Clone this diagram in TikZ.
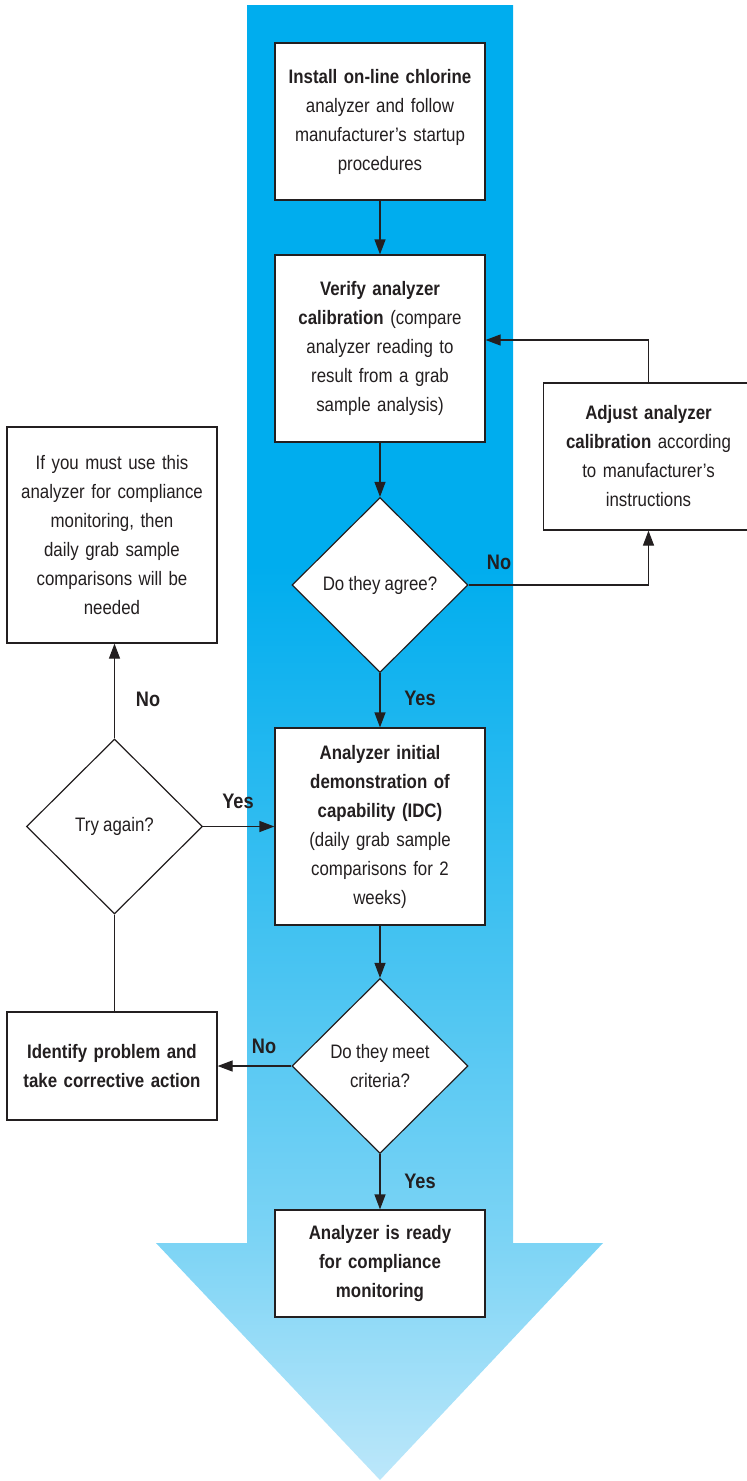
\documentclass[tikz,border=0pt]{standalone}
\usepackage{fontspec}
\setmainfont{Liberation Sans}[FakeStretch=0.865, WordSpace=0.9]
\usetikzlibrary{shapes.geometric,arrows.meta}
\definecolor{flowtop}{RGB}{0,173,238}
\definecolor{flowmid}{RGB}{80,198,242}
\definecolor{flowlow}{RGB}{125,212,245}
\definecolor{flowbot}{RGB}{188,231,250}
\definecolor{inkclr}{HTML}{231F20}
\pgfdeclareverticalshading{flowshade}{100bp}{color(0bp)=(flowbot); color(25bp)=(flowbot);
  color(33bp)=(flowlow); color(41bp)=(flowmid); color(56bp)=(flowtop); color(100bp)=(flowtop)}

\begin{document}
\begin{tikzpicture}[
  x=1pt, y=-1pt,
  font=\fontsize{19.5}{29}\selectfont,
  text=inkclr,
  box/.style={
    rectangle, draw=inkclr, line width=1.2pt, fill=white,
    minimum width=210pt, text width=206pt, align=center, inner sep=0pt,
  },
  decision/.style={
    diamond, draw=inkclr, line width=1.2pt, fill=white,
    minimum width=176pt, minimum height=175pt, inner sep=0pt, align=center,
  },
  answer/.style={font=\fontsize{21}{25}\selectfont\bfseries},
  arrow/.style={-{Triangle[length=15pt,width=11pt]}, line width=1.2pt, draw=inkclr},
  link/.style={line width=1.2pt, draw=inkclr},
]

\useasboundingbox (0,0) rectangle (747,1481);

% Background flow arrow
\shade[shading=flowshade]
  (247,5) -- (513,5) -- (513,1243) -- (603,1243) -- (380,1480)
  -- (156,1243) -- (247,1243) -- cycle;

% Main column
\node[box, minimum height=157pt] (install) at (380,121.5)
  {\textbf{Install on-line chlorine}\\analyzer and follow\\manufacturer's startup\\procedures};
\node[box, minimum height=187pt] (verify) at (380,348.5)
  {\textbf{Verify analyzer}\\\textbf{calibration} (compare\\analyzer reading to\\result from a grab\\sample analysis)};
\node[decision] (agree) at (380,585) {Do they agree?};
\node[box, minimum height=197pt] (idc) at (380,826.5)
  {\textbf{Analyzer initial}\\\textbf{demonstration of}\\\textbf{capability (IDC)}\\(daily grab sample\\comparisons for 2\\weeks)};
\node[decision] (criteria) at (380,1066) {Do they meet\\criteria?};
\node[box, minimum height=107pt] (ready) at (380,1263.5)
  {\textbf{Analyzer is ready}\\\textbf{for compliance}\\\textbf{monitoring}};

% Side boxes
\node[box, minimum height=147pt] (adjust) at (648.5,456.5)
  {\textbf{Adjust analyzer}\\\textbf{calibration} according\\to manufacturer's\\instructions};
\node[box, minimum height=216pt] (daily) at (112,535)
  {If you must use this\\analyzer for compliance\\monitoring, then\\daily grab sample\\comparisons will be\\needed};
\node[decision] (again) at (114.5,826.5) {Try again?};
\node[box, minimum height=108pt] (identify) at (112,1066)
  {\textbf{Identify problem and}\\\textbf{take corrective action}};

% Answer labels
\node[answer] (agreeno)   at (499,562)  {No};
\node[answer] (agreeyes)  at (420,698)  {Yes};
\node[answer] (againno)   at (148,699)  {No};
\node[answer] (againyes)  at (238,801)  {Yes};
\node[answer] (critno)    at (264,1046) {No};
\node[answer] (crityes)   at (420,1181) {Yes};

% Arrows: main column
\draw[arrow] (install.south) -- (verify.north);
\draw[arrow] (verify.south) -- (agree.north);
\draw[arrow] (agree.south) -- (idc.north);
\draw[arrow] (idc.south) -- (criteria.north);
\draw[arrow] (criteria.south) -- (ready.north);

% Calibration loop
\draw[arrow] (agree.east) -| (adjust.south);
\draw[arrow] (adjust.north) |- (verify.east |- 0,340);

% Failure path
\draw[arrow] (criteria.west) -- (identify.east);
\draw[link] (identify.north -| again.south) -- (again.south);
\draw[arrow] (again.north) -- (daily.south -| again.north);
\draw[arrow] (again.east) -- (idc.west |- again.east);

\end{tikzpicture}
\end{document}
